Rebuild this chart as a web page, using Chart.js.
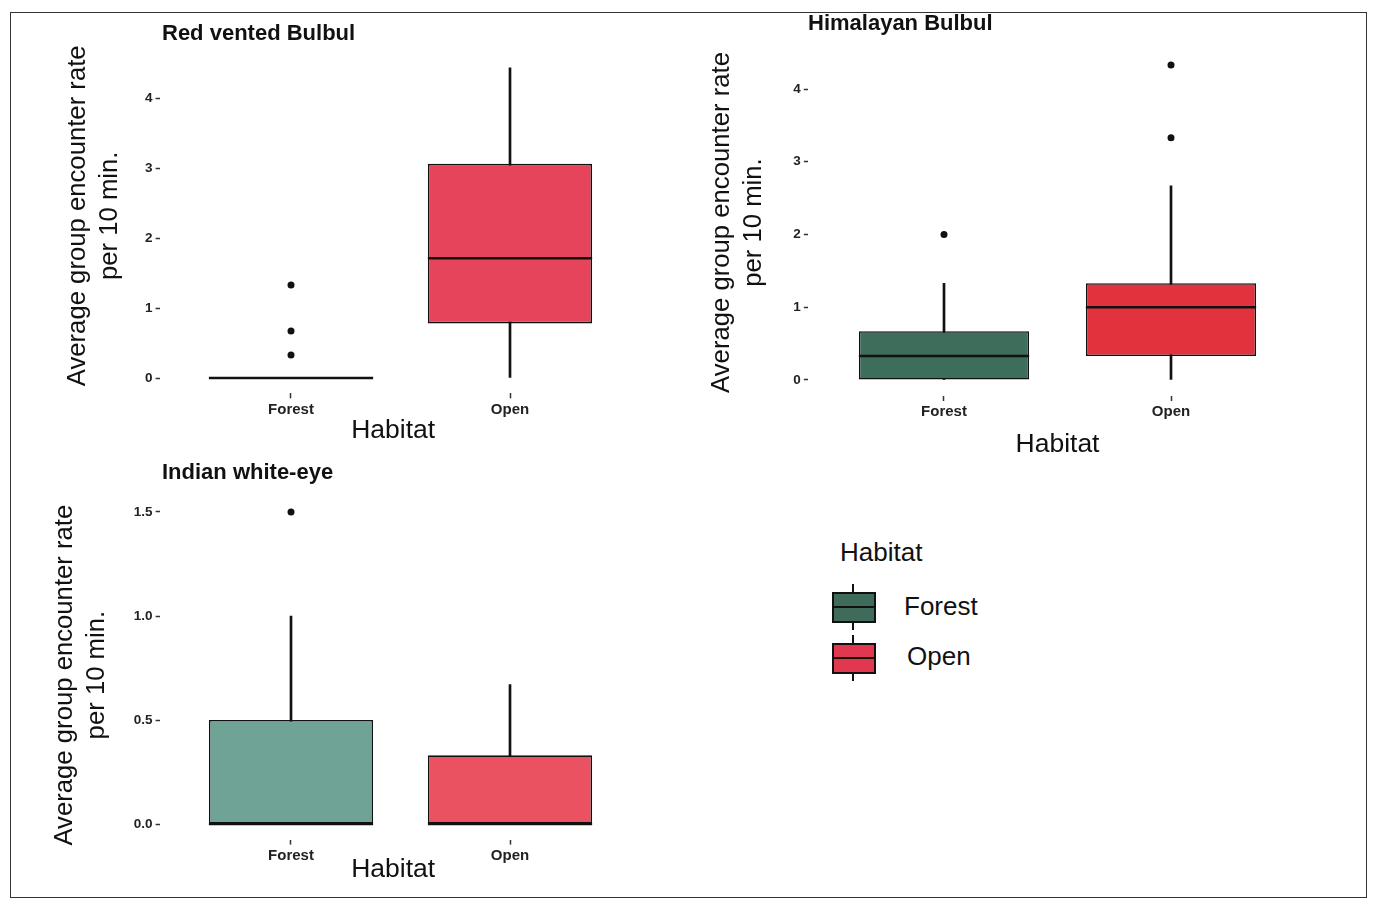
<!DOCTYPE html>
<html>
<head>
<meta charset="utf-8">
<script src="https://cdn.jsdelivr.net/npm/chart.js@4"></script>
<style>
  body { margin: 0; background: #fff; width: 1375px; height: 902px; position: relative; overflow: hidden;
         font-family: "Liberation Sans", Arial, sans-serif; color: #111; }
  .frame { position: absolute; left: 10px; top: 12px; width: 1355px; height: 884px; border: 1.5px solid #333; }
  canvas.panel { position: absolute; }
  .legend-title { position: absolute; left: 840px; top: 537px; font-size: 26px; }
  .key { position: absolute; width: 40px; height: 27px; border: 2px solid #111; }
  .key::before { content: ""; position: absolute; left: 0; right: 0; top: 12px; height: 2px; background: #111; }
  .stub { position: absolute; width: 2px; height: 8px; background: #111; }
  .key-label { position: absolute; font-size: 26px; }
</style>
</head>
<body>
<div class="frame"></div>
<canvas id="rvb" class="panel" width="610" height="445" style="left:40px;top:12px"></canvas>
<canvas id="hb" class="panel" width="630" height="470" style="left:690px;top:5px"></canvas>
<canvas id="iwe" class="panel" width="610" height="437" style="left:40px;top:458px"></canvas>

<div class="legend-title">Habitat</div>
<div class="stub" style="left:852px;top:584px"></div>
<div class="key" style="left:832px;top:592px;background:#3f6b5b"></div>
<div class="stub" style="left:852px;top:622px"></div>
<div class="key" style="left:832px;top:643px;background:#e2384f"></div>
<div class="stub" style="left:852px;top:635px"></div>
<div class="stub" style="left:852px;top:673px"></div>
<div class="key-label" style="left:904px;top:591px">Forest</div>
<div class="key-label" style="left:907px;top:641px">Open</div>

<script>
// categories
const habitats = ['Forest', 'Open'];

// Red vented Bulbul (Forest, Open)
const rvbLow = [0, 0];
const rvbQ1 = [0, 0.78];
const rvbMedian = [0, 1.71];
const rvbQ3 = [0, 3.06];
const rvbHigh = [0, 4.43];
const rvbOutliers = [[0.33, 0.67, 1.33], []];
const rvbTicks = [0, 1, 2, 3, 4];

// Himalayan Bulbul
const hbLow = [0, 0];
const hbQ1 = [0, 0.33];
const hbMedian = [0.33, 1];
const hbQ3 = [0.67, 1.33];
const hbHigh = [1.33, 2.67];
const hbOutliers = [[2], [3.33, 4.33]];
const hbTicks = [0, 1, 2, 3, 4];

// Indian white-eye
const iweLow = [0, 0];
const iweQ1 = [0, 0];
const iweMedian = [0, 0];
const iweQ3 = [0.5, 0.33];
const iweHigh = [1, 0.67];
const iweOutliers = [[1.5], []];
const iweTicks = [0, 0.5, 1, 1.5];

const yTitle = ['Average group encounter rate', 'per 10 min.'];
const FONT = '"Liberation Sans", Arial, sans-serif';

// median bars drawn on top of the boxes
const medianLines = {
  id: 'medianLines',
  afterDatasetsDraw(chart, args, opts) {
    const meta = chart.getDatasetMeta(1);
    const ys = chart.scales.y;
    const ctx = chart.ctx;
    ctx.save();
    ctx.strokeStyle = '#111';
    ctx.lineWidth = 2.5;
    meta.data.forEach((bar, i) => {
      const py = ys.getPixelForValue(opts.values[i]);
      ctx.beginPath();
      ctx.moveTo(bar.x - bar.width / 2, py);
      ctx.lineTo(bar.x + bar.width / 2, py);
      ctx.stroke();
    });
    ctx.restore();
  }
};

// ggplot style title, left aligned
const panelTitle = {
  id: 'panelTitle',
  afterDraw(chart, args, opts) {
    const ctx = chart.ctx;
    ctx.save();
    ctx.font = 'bold 22px ' + FONT;
    ctx.fillStyle = '#111';
    ctx.textBaseline = 'middle';
    ctx.fillText(opts.text, opts.x, opts.y);
    ctx.restore();
  }
};

function makePanel(id, p) {
  const canvas = document.getElementById(id);
  const box = {left: parseFloat(canvas.style.left), top: parseFloat(canvas.style.top),
               width: canvas.width, height: canvas.height};
  // chart area in page coordinates
  const area = p.area;
  const outPoints = [];
  p.outliers.forEach((list, i) => list.forEach(v => outPoints.push({x: i + 1, y: v})));
  // nudge the rotated axis title along the axis with padding spaces
  const pad = ' '.repeat(Math.abs(p.yShift));
  const yText = yTitle.map(t => p.yShift > 0 ? pad + t : t + pad);

  new Chart(canvas, {
    type: 'bar',
    data: {
      datasets: [
        {
          data: habitats.map((h, i) => ({x: i + 1, y: [p.low[i], p.high[i]]})),
          backgroundColor: '#111',
          barThickness: 2,
          grouped: false,
          order: 3
        },
        {
          data: habitats.map((h, i) => ({x: i + 1, y: [p.q1[i], p.q3[i]]})),
          backgroundColor: p.colors,
          borderColor: '#111',
          borderWidth: 1.6,
          borderSkipped: false,
          grouped: false,
          categoryPercentage: 1,
          barPercentage: 0.75,
          order: 2
        },
        {
          type: 'scatter',
          data: outPoints,
          backgroundColor: '#111',
          borderWidth: 0,
          pointRadius: 3.5,
          order: 1
        }
      ]
    },
    options: {
      responsive: false,
      animation: false,
      layout: {
        padding: {
          left: 0,
          top: area.top - box.top,
          right: box.left + box.width - area.right,
          bottom: box.top + box.height - area.bottom - p.xAxisHeight
        }
      },
      plugins: {
        legend: {display: false},
        tooltip: {enabled: false},
        medianLines: {values: p.median},
        panelTitle: {text: p.title, x: p.titleX - box.left, y: p.titleY - box.top}
      },
      scales: {
        x: {
          type: 'linear',
          min: 0.4,
          max: 2.6,
          offset: false,
          afterBuildTicks: s => { s.ticks = habitats.map((h, i) => ({value: i + 1})); },
          afterFit: s => { s.height = p.xAxisHeight; },
          ticks: {
            callback: v => habitats[v - 1],
            font: {family: FONT, size: 15, weight: 'bold'},
            color: '#222',
            padding: 2,
            maxRotation: 0
          },
          grid: {drawOnChartArea: false, drawTicks: true, tickLength: 5, tickWidth: 1.5, tickColor: '#333', offset: false},
          border: {display: false},
          title: {display: true, text: p.xTitle, font: {family: FONT, size: 26.5}, color: '#111', padding: 0}
        },
        y: {
          min: p.yMin,
          max: p.yMax,
          afterBuildTicks: s => { s.ticks = p.ticks.map(v => ({value: v})); },
          afterFit: s => { s.width = area.left - box.left; },
          ticks: {
            callback: v => v.toFixed(p.decimals),
            font: {family: FONT, size: 13.5, weight: 'bold'},
            color: '#222',
            padding: 3
          },
          grid: {drawOnChartArea: false, drawTicks: true, tickLength: 4, tickWidth: 1.5, tickColor: '#333'},
          border: {display: false},
          title: {display: true, text: yText, font: {family: FONT, size: 25.7, lineHeight: '32px'}, color: '#111',
                  padding: {top: p.yTitlePad, bottom: 0}}
        }
      }
    },
    plugins: [medianLines, panelTitle]
  });
}

makePanel('rvb', {
  title: 'Red vented Bulbul', titleX: 162, titleY: 34, xTitle: 'Habitat  ',
  low: rvbLow, q1: rvbQ1, median: rvbMedian, q3: rvbQ3, high: rvbHigh, outliers: rvbOutliers,
  ticks: rvbTicks, decimals: 0, yMin: -0.22, yMax: 4.65,
  colors: ['#3f6b5b', '#e6445a'],
  area: {left: 159.6, right: 641.4, top: 52.5, bottom: 393.4},
  xAxisHeight: 53.6, yTitlePad: 22, yShift: 2
});

makePanel('hb', {
  title: 'Himalayan Bulbul', titleX: 808, titleY: 24, xTitle: 'Habitat',
  low: hbLow, q1: hbQ1, median: hbMedian, q3: hbQ3, high: hbHigh, outliers: hbOutliers,
  ticks: hbTicks, decimals: 0, yMin: -0.22, yMax: 4.55,
  colors: ['#3d6e5b', '#e2323e'],
  area: {left: 807.8, right: 1307.2, top: 49, bottom: 396},
  xAxisHeight: 65, yTitlePad: 16, yShift: 0
});

makePanel('iwe', {
  title: 'Indian white-eye', titleX: 162, titleY: 473, xTitle: 'Habitat  ',
  low: iweLow, q1: iweQ1, median: iweMedian, q3: iweQ3, high: iweHigh, outliers: iweOutliers,
  ticks: iweTicks, decimals: 1, yMin: -0.075, yMax: 1.575,
  colors: ['#6fa396', '#ea5262'],
  area: {left: 159.6, right: 641.4, top: 496.4, bottom: 839.6},
  xAxisHeight: 46.4, yTitlePad: 9, yShift: -2
});
</script>
</body>
</html>
